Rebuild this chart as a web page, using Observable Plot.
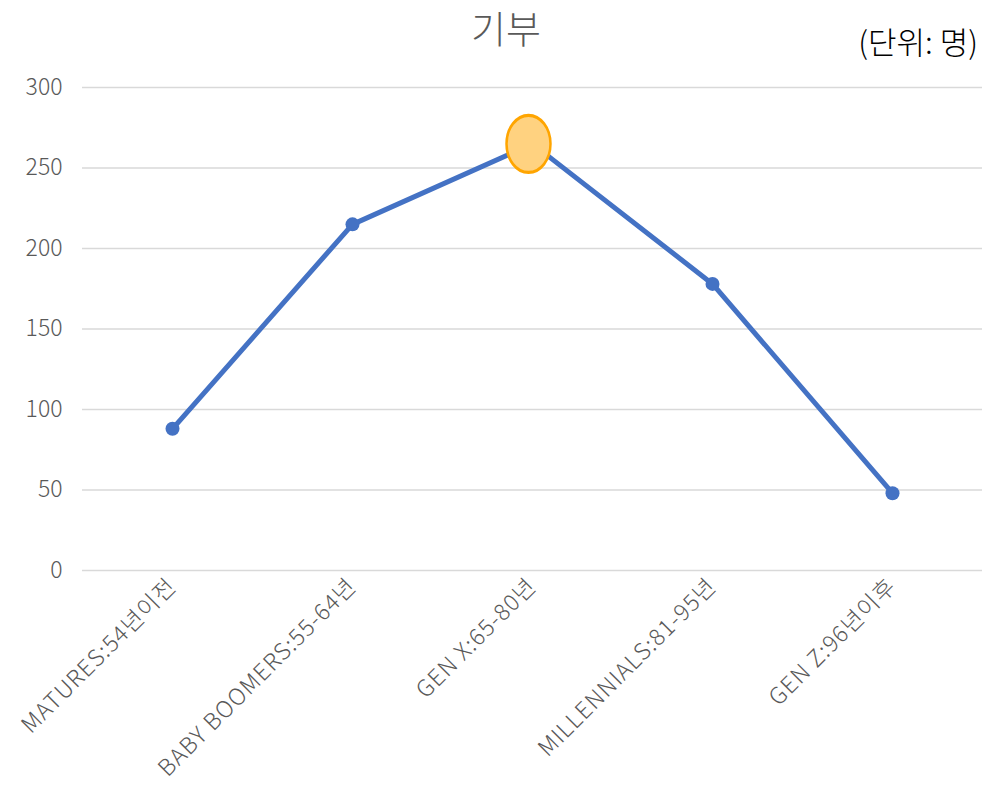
<!DOCTYPE html>
<html><head><meta charset="utf-8">
<script src="https://cdn.jsdelivr.net/npm/d3@7"></script>
<script src="https://cdn.jsdelivr.net/npm/@observablehq/plot@0.6"></script>
<style>
body{margin:0;background:#fff;font-family:"Noto Sans CJK KR","Noto Sans",sans-serif;}
#wrap{position:relative;width:994px;height:794px;overflow:hidden;}
#title{position:absolute;left:406px;width:200px;top:2px;text-align:center;font-size:38px;color:#595959;line-height:50px;font-weight:300;white-space:nowrap;}
#unit{position:absolute;right:16px;top:19px;font-size:31px;color:#000;line-height:44px;font-weight:300;white-space:nowrap;}
svg text{font-weight:300;}
svg g[aria-label="x-axis tick label"] text{letter-spacing:1px;}
</style></head>
<body><div id="wrap"><div id="title">기부</div><div id="unit">(단위: 명)</div><div id="chart"></div></div>
<script>
const categories = ["MATURES:54년이전","BABY BOOMERS:55-64년","GEN X:65-80년","MILLENNIALS:81-95년","GEN Z:96년이후"];
const values = [88, 215, 265, 178, 48];
const yTicks = [0, 50, 100, 150, 200, 250, 300];
const highlight = "GEN X:65-80년";

const data = categories.map((c, i) => ({cat: c, v: values[i]}));

const chart = Plot.plot({
  width: 994, height: 794,
  marginLeft: 82, marginRight: 12, marginTop: 87, marginBottom: 224,
  style: {fontFamily: '"Noto Sans CJK KR","Noto Sans",sans-serif', background: "#fff"},
  x: {type: "point", domain: categories, padding: 0.5, label: null},
  y: {domain: [0, 300], label: null},
  marks: [
    Plot.gridY(yTicks, {stroke: "#D9D9D9", strokeOpacity: 1, strokeWidth: 1.5}),
    Plot.axisY(yTicks, {tickSize: 0, tickPadding: 20, fontSize: 23, fill: "#595959", label: null}),
    Plot.axisX({tickSize: 0, tickRotate: -45, tickPadding: 12, fontSize: 23, fill: "#595959", label: null}),
    Plot.line(data, {x: "cat", y: "v", stroke: "#4472C4", strokeWidth: 5}),
    Plot.dot(data, {x: "cat", y: "v", r: 7, fill: "#4472C4"}),
    Plot.dot(data.filter(d => d.cat === highlight), {
      x: "cat", y: "v", r: 22, dx: -4, fill: "#FFD280", stroke: "#FFA500", strokeWidth: 2.5,
      render(index, scales, values, dimensions, context, next) {
        const g = next(index, scales, values, dimensions, context);
        d3.select(g).selectAll("circle").each(function() {
          const c = d3.select(this);
          const cx = +c.attr("cx"), cy = +c.attr("cy");
          c.attr("transform", `translate(${cx},${cy}) scale(1,1.3) translate(${-cx},${-cy})`);
        });
        return g;
      }
    })
  ]
});
document.getElementById("chart").appendChild(chart);
</script></body></html>
